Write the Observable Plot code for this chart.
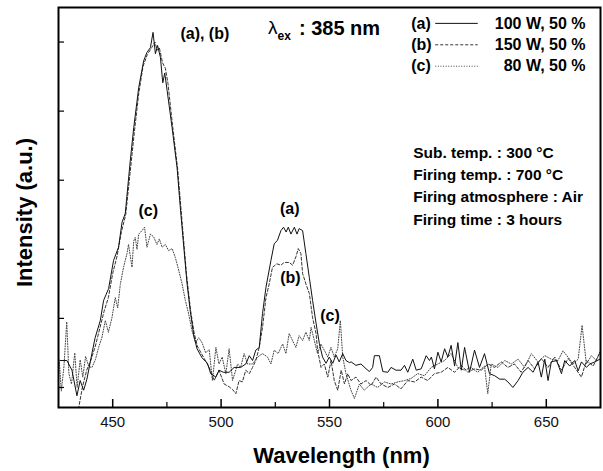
<!DOCTYPE html>
<html>
<head>
<meta charset="utf-8">
<script src="https://cdn.jsdelivr.net/npm/d3@7"></script>
<script src="https://cdn.jsdelivr.net/npm/@observablehq/plot@0.6"></script>
<style>
  html, body { margin: 0; padding: 0; background: #fff; }
  #chart { width: 603px; height: 471px; }
</style>
</head>
<body>
<div id="chart"></div>
<script>
// ---- data ----
const wlA = [425.8,428.9,431.2,433.5,435,436.6,438.1,440.4,441.9,444.3,445.8,448.1,450.4,452.7,454.3,455.8,458.1,459.7,462,464.3,465.8,467.4,468.6,469.7,470.7,472,473.1,474,475.1,477.4,479.7,481.2,482.8,484.3,485.8,487.4,488.9,491.2,493.7,495.2,497.6,499.1,501,503.7,506,509,511.4,513,514.5,516,517.6,519.1,520.7,523,524.5,526,527.6,528.8,530,531,532.2,533.8,535,536,537.6,539.1,540.7,542.2,543.8,545.3,546.8,548.4,549.9,551.5,553,554.5,556.1,557.6,559.2,560,562.2,564.5,566.9,568.4,569.9,570.7,573,574.6,576.9,578.4,580.7,583,584.6,586.1,588.4,590,592.3,594.6,596.1,597,598.4,600,601.5,603.1,604.6,606.1,607.7,609.2,610.8,612.3,614.6,616.9,619.2,621.5,623.8,626.2,628.5,630.8,632.3,634.6,637,639.2,641.6,643.9,646.2,647.7,649.3,650.8,652.3,654.7,657,658.5,660.8,663.1,664.7,666.2,668.5,670,672.4,674.7];
const intA = [39,39,25,-12,10,-4,12,49,72,97,126,143,184,203,239,252,328,376,434,473,485,492,514,483,495,478,441,455,430,376,318,260,203,150,110,75,56,43,35,20,15,25,22,22,29,29,34,46,39,54,58,107,145,184,208,213,227,232,225,232,222,232,222,230,227,194,159,126,93,64,44,35,44,35,47,37,49,39,36,37,32,34,27,23,29,46,46,23,22,29,25,25,32,22,41,25,27,46,39,44,27,51,37,56,44,61,31,65,25,58,22,54,29,49,20,17,12,12,8,0,10,22,29,22,37,15,41,10,37,39,20,39,31,39,24,37,29,34,37,41];

const wlB = [432.5,434,436,438,440,442,444,446,448,450,452,454,456,458,460,462,464,466,468,469.5,470.5,471.5,473,474.3,475.5,477.4,480,482,484,486,487.5,489,492,494.5,496.8,499,501.4,503.7,505.3,506.8,508.3,509.8,511.4,513,514.5,516,517.6,519.1,520.7,522.2,523.7,525.7,527.6,529.1,531.4,533,534.5,535.6,536.8,537.6,539.1,540.7,542.2,543.8,544.5,546.1,547.6,549.2,550.7,552.2,553.8,555.4,556.9,558.4,559.9,562.2,564.5,566.9,569.2,571.5,573.8,576.9,580,583,586.1,589.2,592.3,595.3,598.4,601.5,604.6,607.7,610.8,613.8,616.9,620,623.1,626.2,629.2,632.3,635.3,638.4,641.6,644.6,647.7,650.8,653.9,657,660.1,663.1,666.2,668.5,671.6,674.7];
const intB = [-60,-35,0,25,40,60,85,110,130,165,190,225,250,310,370,425,465,482,492,500,488,492,470,462,440,385,315,240,165,110,80,60,43,29,10,25,5,1,-3,-9,10,8,25,20,29,39,58,87,130,150,174,179,177,181,181,177,189,201,194,165,150,136,101,78,54,29,34,15,39,10,-4,25,5,20,10,15,5,10,3,15,5,0,5,-2,10,8,15,10,20,22,29,22,32,22,27,25,34,29,37,29,34,22,39,27,42,29,44,25,42,29,15,39,31,50];

const wlC = [425.3,426.3,427.5,428.8,429.8,431,432.5,433.6,435,436.2,437.5,439,440.4,442,443.5,445,446.6,448,449.6,451.2,452.3,453.5,455,456.6,457.3,458.9,459.7,460.4,461.2,462,463.5,464.7,465.8,467.4,468.9,470.4,471.5,472.8,474.3,475.8,477.4,478.9,480.5,482,483.5,485,486.6,488.2,489.7,491.2,492.9,494.5,496,497.6,499,500.5,502.2,503.7,505.3,507.6,509,510.6,512.2,514.5,516.8,519.1,521.4,523,524.5,526.3,528.4,529.9,531.4,532.9,534.5,536,537.6,539.1,540.7,541.5,543,544.5,546,547.6,549.2,550.7,552.2,553.8,555,556.1,557.6,559.9,561.5,563.8,566,569.2,572.2,575.3,578.4,581.5,584.6,587.6,590.7,593.8,596.9,600,603.1,606.1,609.2,612.3,615.3,618.4,621.5,623,624.6,627.7,630.8,633.9,637,640,643.1,646.2,649.3,652.3,655.4,657.7,660,662.4,664.7,666.5,668.5,670.8,673.1,675];
const intC = [40,-5,30,95,20,5,50,0,40,15,45,30,29,40,58,72,97,80,100,130,115,149,174,194,207,174,212,217,200,222,227,232,203,222,218,207,215,203,207,198,201,188,169,150,126,107,82,65,72,65,50,55,10,58,34,44,20,56,10,34,29,49,34,34,44,49,44,34,54,49,63,49,78,68,58,75,68,80,68,87,68,49,63,54,44,58,44,56,97,44,20,-4,-16,5,-4,5,0,8,5,8,10,13,20,17,29,34,39,49,29,25,29,22,31,-9,34,29,39,34,41,29,49,37,46,41,39,53,44,34,41,90,34,46,39,54];

const seriesKeys = ["(a)", "(b)", "(c)"];
const seriesNames = ["100 W, 50 %", "150 W, 50 %", "80 W, 50 %"];
const xMajorTicks = [450, 500, 550, 600, 650];
const xMinorTicks = [475, 525, 575, 625];
const yTicks = [0, 100, 200, 300, 400, 500];
const conditions = ["Sub. temp. : 300 \u00B0C", "Firing temp. : 700 \u00B0C", "Firing atmosphere : Air", "Firing time : 3 hours"];

// ---- build tables ----
const toRows = (wl, v, k) => wl.map((w, i) => ({wl: w, v: v[i], k}));
const rowsA = toRows(wlA, intA, "(a)");
const rowsB = toRows(wlB, intB, "(b)");
const rowsC = toRows(wlC, intC, "(c)");

// styles
const styles = {
  "(a)": {stroke: "#111", dash: null},
  "(b)": {stroke: "#333", dash: "3,2"},
  "(c)": {stroke: "#444", dash: "1,1.6"}
};

// annotation / legend placement (layout, data coordinates)
const peakLabels = [
  {x: 492.5, y: 512, t: "(a), (b)"},
  {x: 466.4, y: 256, t: "(c)"},
  {x: 531.7, y: 259, t: "(a)"},
  {x: 532, y: 159, t: "(b)"},
  {x: 550.2, y: 104, t: "(c)"}
];
const legendRowsY = [527, 496, 465];
const legend = seriesKeys.map((k, i) => ({k, name: seriesNames[i], y: legendRowsY[i]}));
const condRows = conditions.map((t, i) => ({t, y: [340, 307, 275, 242][i]}));

const FONT = "'Liberation Sans', Arial, Helvetica, sans-serif";
const W = 603, H = 471, mL = 58, mR = 3, mT = 7, mB = 64;
const fw = W - mL - mR, fh = H - mT - mB;

const lineMark = (rows, k) => Plot.line(rows, {
  x: "wl", y: "v", stroke: styles[k].stroke, strokeWidth: 1,
  strokeDasharray: styles[k].dash, clip: true
});

const chart = Plot.plot({
  width: W, height: H,
  marginLeft: mL, marginRight: mR, marginTop: mT, marginBottom: mB,
  style: {fontFamily: FONT, background: "#fff", overflow: "visible"},
  x: {domain: [425, 675], axis: null},
  y: {domain: [-29, 550], axis: null},
  marks: [
    lineMark(rowsC, "(c)"),
    lineMark(rowsB, "(b)"),
    lineMark(rowsA, "(a)"),
    // inward ticks
    Plot.ruleX(xMajorTicks, {x: d => d, insetTop: fh - 8, stroke: "#000", strokeWidth: 1.5}),
    Plot.ruleX(xMinorTicks, {x: d => d, insetTop: fh - 5, stroke: "#000", strokeWidth: 1.2}),
    Plot.ruleY(yTicks, {y: d => d, insetRight: fw - 6, stroke: "#000", strokeWidth: 1.2}),
    // tick labels
    Plot.text(xMajorTicks, {x: d => d, text: d => String(d), frameAnchor: "bottom", dy: 19, fontSize: 15, fill: "#111"}),
    // axis titles
    Plot.text(["Wavelength (nm)"], {frameAnchor: "bottom", textAnchor: "middle", dx: 12, dy: 55, fontSize: 22, fontWeight: "bold", fill: "#000"}),
    Plot.text(["Intensity (a.u.)"], {frameAnchor: "left", textAnchor: "middle", dx: -34, dy: 5, rotate: -90, fontSize: 22, fontWeight: "bold", fill: "#000"}),
    // peak labels
    Plot.text(peakLabels, {x: "x", y: "y", text: "t", fontSize: 16, fontWeight: "bold", fill: "#000"}),
    // excitation label
    Plot.text(["\u03BB"], {x: 521.6, y: 520, textAnchor: "start", fontSize: 19, fill: "#000"}),
    Plot.text(["ex"], {x: 526.0, y: 520, dy: 8, textAnchor: "start", fontSize: 12, fontWeight: "bold", fill: "#000"}),
    Plot.text([": 385 nm"], {x: 535.9, y: 520, textAnchor: "start", fontSize: 20, fontWeight: "bold", fill: "#000"}),
    // legend
    Plot.text(legend, {x: 587.7, y: "y", text: "k", textAnchor: "start", fontSize: 16, fontWeight: "bold", fill: "#000"}),
    Plot.text(legend, {x: 668.1, y: "y", text: "name", textAnchor: "end", fontSize: 16, fontWeight: "bold", fill: "#000"}),
    ...legend.map(d => Plot.ruleY([d.y], {x1: 599, x2: 618.6, y: v => v, stroke: styles[d.k].stroke, strokeWidth: 1, strokeDasharray: styles[d.k].dash})),
    // conditions
    Plot.text(condRows, {x: 588.6, y: "y", text: "t", textAnchor: "start", fontSize: 15.5, fontWeight: "bold", fill: "#000"}),
    Plot.frame({stroke: "#000", strokeWidth: 2})
  ]
});

document.getElementById("chart").appendChild(chart);
</script>
</body>
</html>
